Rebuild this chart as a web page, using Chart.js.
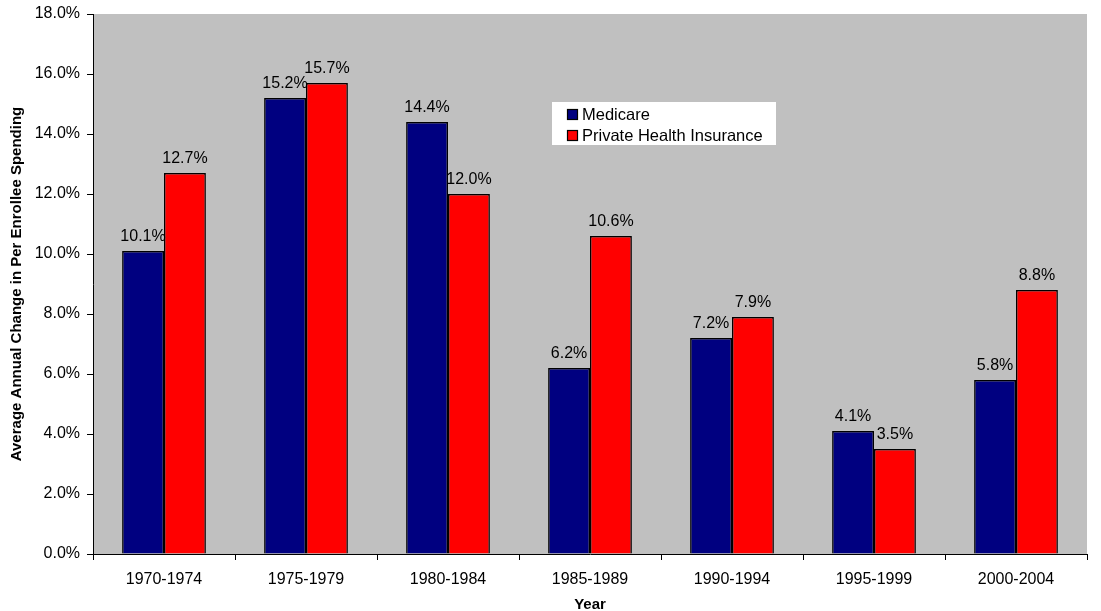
<!DOCTYPE html>
<html><head><meta charset="utf-8">
<script src="https://cdn.jsdelivr.net/npm/chart.js@4"></script>
<style>html,body{margin:0;padding:0;background:#fff}#wrap{width:1101px;height:611px}</style>
</head><body><div id="wrap"><canvas id="c" width="1101" height="611"></canvas></div>
<script>
const categories = ["1970-1974","1975-1979","1980-1984","1985-1989","1990-1994","1995-1999","2000-2004"];
const medicare = [10.1,15.2,14.4,6.2,7.2,4.1,5.8];
const privateIns = [12.7,15.7,12.0,10.6,7.9,3.5,8.8];
const seriesNames = ["Medicare","Private Health Insurance"];
const yTicks = [0,2,4,6,8,10,12,14,16,18];
const FONT = "'Liberation Sans', Arial, sans-serif";

const bgPlugin = {
  id:'bg',
  beforeDraw(chart){
    const {ctx, chartArea:a} = chart;
    ctx.save(); ctx.fillStyle='#C0C0C0';
    ctx.fillRect(a.left,a.top,a.right-a.left,a.bottom-a.top); ctx.restore();
  }
};
const labelPlugin = {
  id:'labels',
  afterDatasetsDraw(chart){
    const ctx=chart.ctx; ctx.save();
    ctx.font='16px '+FONT; ctx.fillStyle='#000'; ctx.textAlign='center'; ctx.textBaseline='alphabetic';
    chart.data.datasets.forEach((ds,i)=>{
      chart.getDatasetMeta(i).data.forEach((bar,j)=>{
        ctx.fillText(ds.data[j].toFixed(1)+'%', bar.x, bar.y-10);
      });
    });
    ctx.restore();
  }
};
const legendPlugin = {
  id:'customLegend',
  afterDraw(chart){
    const ctx=chart.ctx; ctx.save();
    const x=552,y=102,w=224,h=43;
    ctx.fillStyle='#fff'; ctx.fillRect(x,y,w,h);
    ctx.font='16.5px '+FONT; ctx.textBaseline='middle'; ctx.textAlign='left';
    chart.data.datasets.forEach((ds,i)=>{
      const yy=y+12+i*21;
      ctx.fillStyle=ds.backgroundColor; ctx.fillRect(x+15,yy-5,11,11);
      ctx.strokeStyle='#000'; ctx.lineWidth=1.2; ctx.strokeRect(x+15.5,yy-4.5,10,10);
      ctx.fillStyle='#000'; ctx.fillText(ds.label, x+30, yy+1);
    });
    ctx.restore();
  }
};

new Chart(document.getElementById('c'),{
  type:'bar',
  data:{labels:categories,datasets:[
    {label:seriesNames[0],data:medicare,backgroundColor:'#000080',borderColor:'#000',borderWidth:1.5,barPercentage:1,categoryPercentage:0.59},
    {label:seriesNames[1],data:privateIns,backgroundColor:'#FF0000',borderColor:'#000',borderWidth:1.5,barPercentage:1,categoryPercentage:0.59}
  ]},
  options:{
    responsive:false,animation:false,
    layout:{padding:{left:0,right:14,top:14,bottom:0}},
    plugins:{legend:{display:false},tooltip:{enabled:false}},
    scales:{
      x:{
        afterFit:s=>{s.height=57;},
        grid:{display:true,drawOnChartArea:false,offset:true,color:'#000',tickLength:6,tickColor:'#000'},
        border:{color:'#000',width:1},
        ticks:{color:'#000',font:{family:FONT,size:16},padding:10,maxRotation:0},
        title:{display:true,text:'Year',color:'#000',font:{family:FONT,size:15,weight:'bold'},padding:{top:0,bottom:-3}}
      },
      y:{
        min:0,max:18,
        afterFit:s=>{s.width=93;s.paddingTop=0;s.paddingBottom=0;},
        afterBuildTicks:s=>{s.ticks=yTicks.map(v=>({value:v}));},
        grid:{display:true,drawOnChartArea:false,color:'#000',tickLength:6,tickColor:'#000'},
        border:{color:'#000',width:1},
        ticks:{color:'#000',font:{family:FONT,size:16},padding:7,callback:v=>v.toFixed(1)+'%'},
        title:{display:true,text:'Average Annual Change in Per Enrollee Spending',color:'#000',font:{family:FONT,size:15,weight:'bold'},padding:{top:8,bottom:0}}
      }
    }
  },
  plugins:[bgPlugin,labelPlugin,legendPlugin]
});
</script></body></html>
